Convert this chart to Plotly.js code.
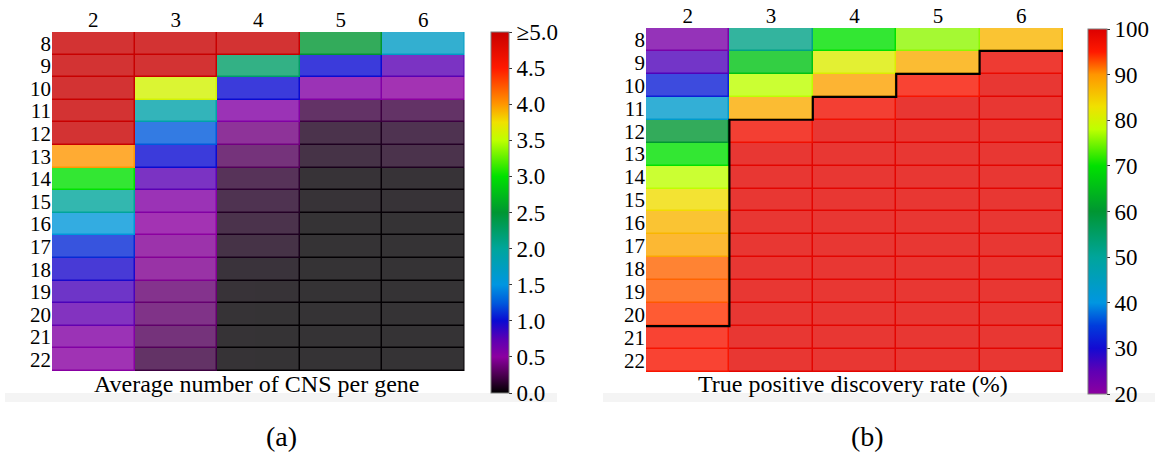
<!DOCTYPE html>
<html>
<head>
<meta charset="utf-8">
<script src="https://cdn.plot.ly/plotly-3.0.1.min.js"></script>
<style>
  html, body { margin: 0; padding: 0; background: #ffffff; }
  #chart { width: 1155px; height: 456px; }
</style>
</head>
<body>
<div id="chart"></div>
<script>
// Column categories (top axis) and row categories (left axis)
const xCats = [2, 3, 4, 5, 6];
const yCats = [8, 9, 10, 11, 12, 13, 14, 15, 16, 17, 18, 19, 20, 21, 22];

// (a) Average number of CNS per gene, one row per y category (values >= 5 shown as 5.0)
const cnsPerGene = [
  [5.0, 5.0, 5.0, 2.5, 1.7],
  [5.0, 5.0, 2.25, 1.0, 0.75],
  [5.0, 3.6, 1.0, 0.55, 0.5],
  [5.0, 1.9, 0.55, 0.2, 0.2],
  [5.0, 1.25, 0.4, 0.1, 0.12],
  [4.0, 1.0, 0.28, 0.08, 0.1],
  [3.0, 0.75, 0.15, 0.02, 0.02],
  [2.0, 0.55, 0.12, 0.02, 0.02],
  [1.55, 0.5, 0.1, 0.01, 0.01],
  [1.1, 0.47, 0.08, 0.01, 0.01],
  [0.95, 0.45, 0.03, 0.01, 0.01],
  [0.8, 0.35, 0.02, 0.01, 0.01],
  [0.7, 0.33, 0.01, 0.01, 0.01],
  [0.55, 0.28, 0.01, 0.01, 0.01],
  [0.52, 0.2, 0.01, 0.01, 0.01]
];

// (b) True positive discovery rate (%)
const tpdr = [
  [22, 52, 70, 76, 87],
  [26, 66, 81, 88, 98],
  [32, 78, 89, 96, 99],
  [43, 88, 97, 99, 99],
  [60, 97, 99, 99, 99],
  [70, 99, 99, 99, 99],
  [78, 99, 99, 99, 99],
  [83.5, 99, 99, 99, 99],
  [87, 99, 99, 99, 99],
  [88.5, 99, 99, 99, 99],
  [92, 99, 99, 99, 99],
  [92.5, 99, 99, 99, 99],
  [94, 99, 99, 99, 99],
  [96, 99, 99, 99, 99],
  [96, 99, 99, 99, 99]
];

const cnsTicks = [0, 0.5, 1, 1.5, 2, 2.5, 3, 3.5, 4, 4.5, 5];
const cnsTickText = ['0.0', '0.5', '1.0', '1.5', '2.0', '2.5', '3.0', '3.5', '4.0', '4.5', '\u22655.0'];
const tpdrTicks = [20, 30, 40, 50, 60, 70, 80, 90, 100];
const tpdrThreshold = 95;

const W = 1155, H = 456;
const px = v => v / W;
const py = v => 1 - v / H;

const FONT = '"Liberation Serif", "DejaVu Serif", serif';

// Colour map for panel (a), over 0 .. 5
const cnsScale = [
  [0.00, 'rgb(0,0,0)'],
  [0.05, 'rgb(75,0,80)'],
  [0.10, 'rgb(140,0,160)'],
  [0.15, 'rgb(90,0,180)'],
  [0.20, 'rgb(10,10,210)'],
  [0.25, 'rgb(0,90,220)'],
  [0.30, 'rgb(0,150,225)'],
  [0.40, 'rgb(0,165,155)'],
  [0.50, 'rgb(0,150,50)'],
  [0.60, 'rgb(0,225,0)'],
  [0.70, 'rgb(190,255,0)'],
  [0.75, 'rgb(240,225,0)'],
  [0.80, 'rgb(255,150,0)'],
  [0.90, 'rgb(255,25,0)'],
  [1.00, 'rgb(200,0,0)']
];

// Colour map for panel (b), over 20 .. 100
const tpdrScale = [
  [0.0000, 'rgb(140,0,160)'],
  [0.0625, 'rgb(95,0,180)'],
  [0.1250, 'rgb(20,10,210)'],
  [0.1875, 'rgb(0,60,220)'],
  [0.2500, 'rgb(0,150,225)'],
  [0.3750, 'rgb(0,165,155)'],
  [0.5000, 'rgb(0,150,50)'],
  [0.6250, 'rgb(0,225,0)'],
  [0.7250, 'rgb(190,255,0)'],
  [0.7875, 'rgb(240,225,0)'],
  [0.8750, 'rgb(255,150,0)'],
  [0.9375, 'rgb(255,25,0)'],
  [1.0000, 'rgb(220,0,0)']
];

// A light wash over each cell, leaving thin edges in the full colour
const ones = yCats.map(() => xCats.map(() => 1));
function wash(xa, ya) {
  return {
    type: 'heatmap', x: xCats, y: yCats, z: ones,
    colorscale: [[0, '#ffffff'], [1, '#ffffff']], showscale: false,
    opacity: 0.2, xgap: 1.5, ygap: 1.5, hoverinfo: 'skip',
    xaxis: xa, yaxis: ya
  };
}

// Staircase bounding the cells at or above the threshold in panel (b)
function firstRowAbove(col) {
  let r = yCats.length;
  for (let i = yCats.length - 1; i >= 0; i--) {
    if (tpdr[i][col] >= tpdrThreshold) r = i; else break;
  }
  return r;
}
const stairX = [], stairY = [];
xCats.forEach((c, j) => {
  const b = yCats[0] + firstRowAbove(j) - 0.5;
  stairX.push(c - 0.5, c + 0.5);
  stairY.push(b, b);
});

const colorbarBase = {
  thickness: 18, thicknessmode: 'pixels', lenmode: 'pixels',
  xanchor: 'left', yanchor: 'top', xpad: 0, ypad: 0,
  outlinecolor: '#7f7f7f', outlinewidth: 1,
  ticks: 'outside', ticklen: 3, tickcolor: '#333333',
  tickfont: { family: FONT, size: 23, color: '#000000' }
};

const traces = [
  {
    type: 'heatmap', x: xCats, y: yCats, z: cnsPerGene,
    zmin: 0, zmax: 5, colorscale: cnsScale, xaxis: 'x', yaxis: 'y',
    colorbar: Object.assign({}, colorbarBase, {
      x: px(491), y: py(32), len: 361,
      tickvals: cnsTicks, ticktext: cnsTickText
    })
  },
  wash('x', 'y'),
  {
    type: 'heatmap', x: xCats, y: yCats, z: tpdr,
    zmin: 20, zmax: 100, colorscale: tpdrScale, xaxis: 'x2', yaxis: 'y2',
    colorbar: Object.assign({}, colorbarBase, {
      x: px(1088), y: py(29), len: 365, thickness: 19,
      tickvals: tpdrTicks
    })
  },
  wash('x2', 'y2'),
  {
    type: 'scatter', mode: 'lines', x: stairX, y: stairY,
    line: { color: '#000000', width: 2.2, shape: 'linear' },
    xaxis: 'x2', yaxis: 'y2', hoverinfo: 'skip', showlegend: false,
    cliponaxis: false
  }
];

function xAxis(domain) {
  return {
    domain: domain, range: [1.5, 6.5], side: 'top', tickvals: xCats,
    showgrid: false, zeroline: false, showline: false, ticks: '',
    tickfont: { family: FONT, size: 21, color: '#000000' }, fixedrange: true
  };
}
function yAxis(domain) {
  return {
    domain: domain, range: [22.5, 7.5], tickvals: yCats,
    showgrid: false, zeroline: false, showline: false, ticks: '',
    tickfont: { family: FONT, size: 21, color: '#000000' }, fixedrange: true
  };
}

const layout = {
  width: W, height: H,
  margin: { l: 0, r: 0, t: 0, b: 0, pad: 0 },
  paper_bgcolor: '#ffffff', plot_bgcolor: '#ffffff',
  font: { family: FONT, color: '#000000' },
  showlegend: false,
  xaxis: xAxis([px(52), px(464.5)]),
  yaxis: Object.assign(yAxis([py(371), py(32)]), { anchor: 'x' }),
  xaxis2: Object.assign(xAxis([px(646), px(1063)]), { anchor: 'y2' }),
  yaxis2: Object.assign(yAxis([py(372), py(28)]), { anchor: 'x2' }),
  shapes: [
    { type: 'rect', xref: 'paper', yref: 'paper', layer: 'below',
      x0: px(5), x1: px(557), y0: py(402), y1: py(393),
      fillcolor: '#f4f4f4', line: { width: 0 } },
    { type: 'rect', xref: 'paper', yref: 'paper', layer: 'below',
      x0: px(603), x1: px(1155), y0: py(402), y1: py(393),
      fillcolor: '#f4f4f4', line: { width: 0 } }
  ],
  annotations: [
    { xref: 'paper', yref: 'paper', x: px(256), y: py(384), showarrow: false,
      text: 'Average number of CNS per gene', xanchor: 'center', yanchor: 'middle',
      font: { family: FONT, size: 24, color: '#000000' } },
    { xref: 'paper', yref: 'paper', x: px(853), y: py(384), showarrow: false,
      text: 'True positive discovery rate (%)', xanchor: 'center', yanchor: 'middle',
      font: { family: FONT, size: 24, color: '#000000' } },
    { xref: 'paper', yref: 'paper', x: px(281), y: py(436), showarrow: false,
      text: '(a)', xanchor: 'center', yanchor: 'middle',
      font: { family: FONT, size: 28, color: '#000000' } },
    { xref: 'paper', yref: 'paper', x: px(867), y: py(436), showarrow: false,
      text: '(b)', xanchor: 'center', yanchor: 'middle',
      font: { family: FONT, size: 28, color: '#000000' } }
  ]
};

Plotly.newPlot('chart', traces, layout, { displayModeBar: false, staticPlot: true });
</script>
</body>
</html>
